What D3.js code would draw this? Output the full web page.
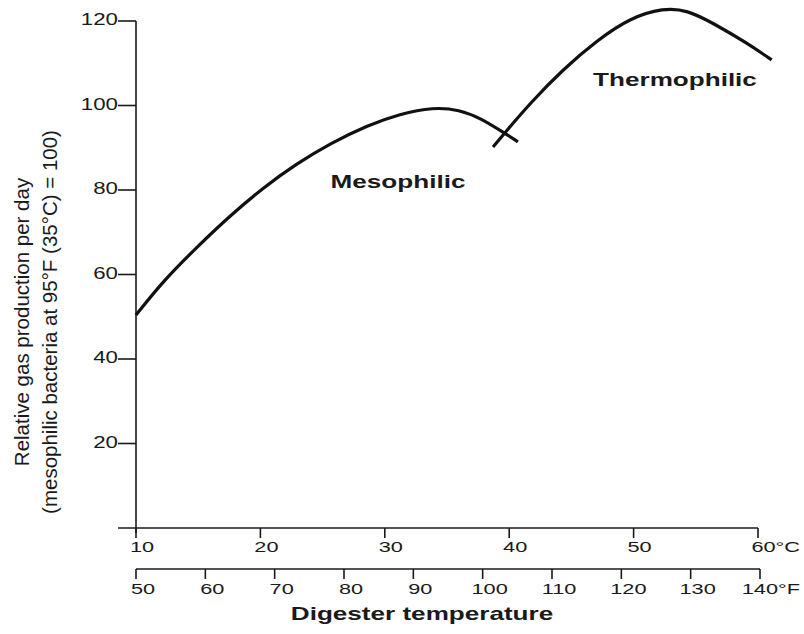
<!DOCTYPE html>
<html>
<head>
<meta charset="utf-8">
<script src="https://cdn.jsdelivr.net/npm/d3@7"></script>
<style>
body { margin: 0; background: #fff; }
text { font-family: "Liberation Sans", Arial, sans-serif; fill: #1a1a1a; }
</style>
</head>
<body>
<svg id="chart" width="804" height="634"></svg>
<script>
// values (temperature in deg C, relative gas production)
var celsiusTicks = [10, 20, 30, 40, 50, 60];
var fahrenheitTicks = [50, 60, 70, 80, 90, 100, 110, 120, 130, 140];
var yTicks = [20, 40, 60, 80, 100, 120];

var mesoTemp = [10, 12.2, 14.9, 17.6, 20.2, 22.9, 25.6, 28.6, 31.2, 33.9, 36.0, 37.7, 39.5, 40.7];
var mesoGas  = [50.4, 58.5, 66.5, 74.0, 80.5, 86.2, 91.0, 95.3, 98.0, 99.6, 99.0, 97.0, 93.7, 91.4];

var thermoTemp = [38.7, 39.7, 41.7, 44.3, 47.1, 49.7, 52.4, 54.3, 56.4, 59.1, 61.1];
var thermoGas  = [90.2, 93.7, 100.6, 108.5, 115.5, 120.7, 123.1, 122.6, 119.5, 114.8, 110.8];

var svg = d3.select("#chart");

var xC = d3.scaleLinear().domain([10, 60]).range([136, 758]);
var xF = d3.scaleLinear().domain([50, 140]).range([136, 760]);
var y = d3.scaleLinear().domain([0, 120]).range([528, 21]);

// text stretched sideways like the scanned figure
function label(x, yy, txt, size, sx, anchor, bold) {
    return svg.append("text")
        .attr("transform", "translate(" + x + "," + yy + ") scale(" + sx + ",1)")
        .attr("text-anchor", anchor)
        .style("font-size", size + "px")
        .style("font-weight", bold ? "bold" : "normal")
        .text(txt);
}

var axisStyle = function(sel) {
    sel.attr("stroke", "#1a1a1a").attr("stroke-width", 1.6).attr("fill", "none");
};

// y axis
svg.append("line").attr("x1", 136).attr("x2", 136).attr("y1", y(120)).attr("y2", 533).call(axisStyle);
yTicks.forEach(function(v) {
    svg.append("line").attr("x1", 118).attr("x2", 136).attr("y1", y(v)).attr("y2", y(v)).call(axisStyle);
    label(118, y(v) + 4, v, 16.5, 1.35, "end", false);
});

// celsius axis
svg.append("line").attr("x1", 118).attr("x2", xC(60)).attr("y1", 528).attr("y2", 528).call(axisStyle);
celsiusTicks.forEach(function(v, i) {
    svg.append("line").attr("x1", xC(v)).attr("x2", xC(v)).attr("y1", 528).attr("y2", 538).call(axisStyle);
    if (i == celsiusTicks.length - 1) {
        label(xC(v) + 42, 552, v + "°C", 15, 1.45, "end", false);
    } else {
        label(xC(v) + 6, 552, v, 15, 1.45, "middle", false);
    }
});

// fahrenheit axis
svg.append("line").attr("x1", xF(50)).attr("x2", xF(140)).attr("y1", 569).attr("y2", 569).call(axisStyle);
fahrenheitTicks.forEach(function(v, i) {
    svg.append("line").attr("x1", xF(v)).attr("x2", xF(v)).attr("y1", 569).attr("y2", 579).call(axisStyle);
    if (i == fahrenheitTicks.length - 1) {
        label(xF(v) + 40, 594, v + "°F", 15, 1.45, "end", false);
    } else {
        label(xF(v) + 7, 594, v, 15, 1.45, "middle", false);
    }
});

// curves
var line = d3.line()
    .x(function(d) { return xC(d[0]); })
    .y(function(d) { return y(d[1]); })
    .curve(d3.curveBasis);

var meso = d3.zip(mesoTemp, mesoGas);
var thermo = d3.zip(thermoTemp, thermoGas);

svg.append("path").datum(meso).attr("d", line)
    .attr("fill", "none").attr("stroke", "#111").attr("stroke-width", 3.2);
svg.append("path").datum(thermo).attr("d", line)
    .attr("fill", "none").attr("stroke", "#111").attr("stroke-width", 3.2);

// annotations
label(398, 188, "Mesophilic", 18, 1.45, "middle", true);
label(675, 86, "Thermophilic", 18, 1.45, "middle", true);
label(422, 620, "Digester temperature", 18, 1.45, "middle", true);

// y axis title
svg.append("text")
    .attr("transform", "translate(29,322) rotate(-90)")
    .attr("text-anchor", "middle")
    .style("font-size", "20.5px")
    .text("Relative gas production per day");
svg.append("text")
    .attr("transform", "translate(57,322) rotate(-90)")
    .attr("text-anchor", "middle")
    .style("font-size", "20.5px")
    .text("(mesophilic bacteria at 95°F (35°C) = 100)");
</script>
</body>
</html>
